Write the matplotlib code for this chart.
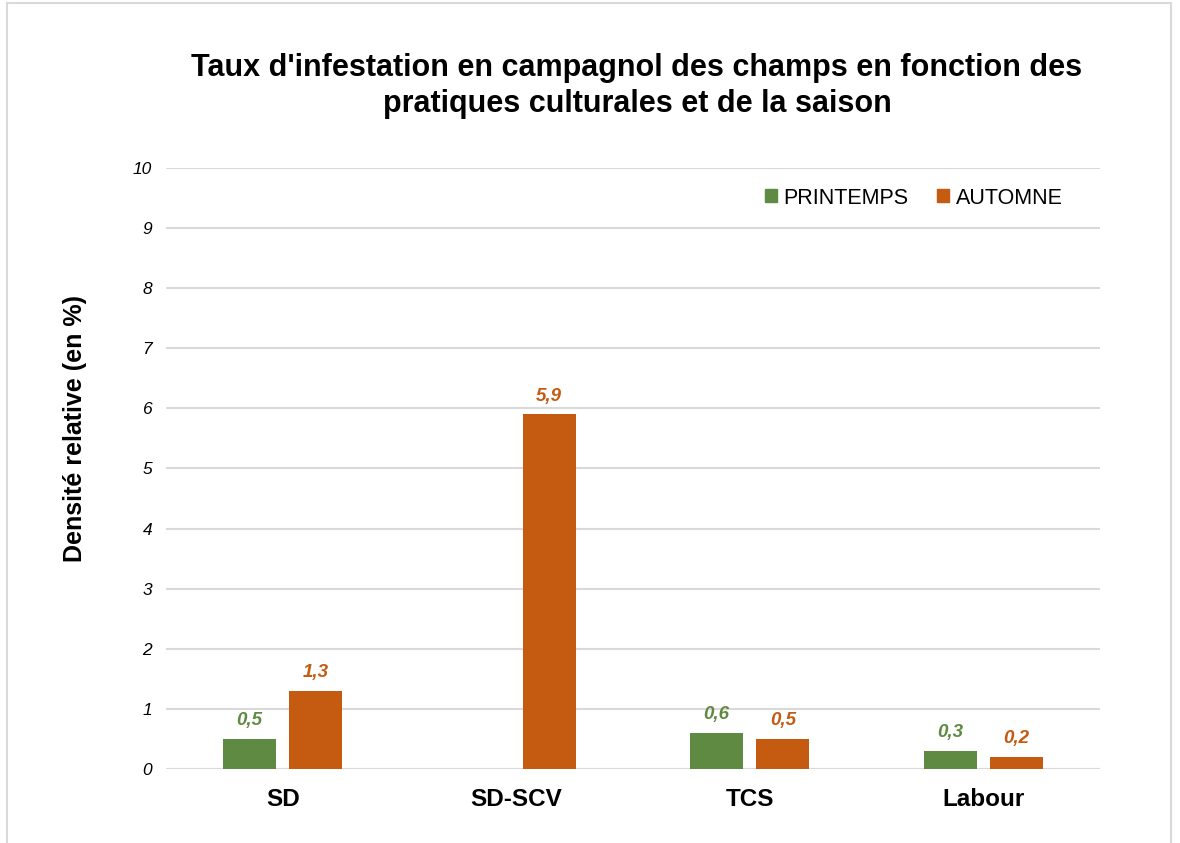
import numpy as np
import matplotlib.pyplot as plt
from matplotlib.patches import Patch, Rectangle

# Données : densité relative de campagnols par pratique culturale et saison
pratiques = ["SD", "SD-SCV", "TCS", "Labour"]
printemps = [0.5, 0.0, 0.6, 0.3]
automne = [1.3, 5.9, 0.5, 0.2]
graduations = list(range(0, 11))

VERT = "#5E8B41"
ORANGE = "#C55A11"
GRILLE = "#D9D9D9"

plt.rcParams["font.family"] = ["Liberation Sans", "DejaVu Sans"]

fig = plt.figure(figsize=(11.8, 8.43), dpi=100)
fig.patches.append(Rectangle((7 / 1180, -0.05), 1164 / 1180, 1.05 - 3 / 843,
                             transform=fig.transFigure, fill=False,
                             edgecolor=GRILLE, linewidth=1.5))

ax = fig.add_axes([166 / 1180, 1 - 769 / 843, 934 / 1180, 601 / 843])

x = np.arange(len(pratiques))
largeur = 0.227
decalage = 0.1415

barres_p = ax.bar(x - decalage, printemps, largeur, color=VERT, zorder=3)
barres_a = ax.bar(x + decalage, automne, largeur, color=ORANGE, zorder=3)

# étiquettes de valeur (virgule décimale), sauf pour les valeurs nulles
for barres, valeurs, couleur in ((barres_p, printemps, VERT), (barres_a, automne, ORANGE)):
    for b, v in zip(barres, valeurs):
        if v == 0:
            continue
        ax.annotate(f"{v:.1f}".replace(".", ","),
                    (b.get_x() + b.get_width() / 2, v),
                    xytext=(0, 7), textcoords="offset points",
                    ha="center", va="bottom", color=couleur,
                    fontsize=13.5, fontweight="bold", fontstyle="italic")

ax.set_xlim(-0.5, len(pratiques) - 0.5)
ax.set_ylim(0, 10)
ax.set_yticks(graduations)
ax.set_yticklabels([str(g) for g in graduations], fontstyle="italic", fontsize=12.5)
ax.set_xticks(x)
ax.set_xticklabels(pratiques, fontsize=17.5, fontweight="bold")
ax.tick_params(axis="both", length=0, colors="black")
ax.tick_params(axis="y", pad=10)
ax.tick_params(axis="x", pad=14)

ax.grid(axis="y", color=GRILLE, linewidth=1.5, zorder=0)
for s in ax.spines.values():
    s.set_visible(False)
ax.axhline(0, color=GRILLE, linewidth=1.5, zorder=2)

ax.set_ylabel("Densité relative (en %)", fontsize=18, fontweight="bold")
ax.yaxis.set_label_coords(-0.0846, 0.567)

fig.text(637 / 1180, 1 - 86 / 843,
         "Taux d'infestation en campagnol des champs en fonction des\npratiques culturales et de la saison",
         ha="center", va="center", fontsize=22, fontweight="bold", linespacing=1.3)

poignees = [Patch(color=VERT, label="PRINTEMPS"), Patch(color=ORANGE, label="AUTOMNE")]
ax.legend(handles=poignees, loc="center left", bbox_to_anchor=(0.641, 0.950),
          ncol=2, frameon=False, fontsize=15.5, handlelength=0.55, handleheight=0.55,
          handletextpad=0.3, columnspacing=1.35, borderpad=0, borderaxespad=0)

fig.savefig("out.png", dpi=100)
